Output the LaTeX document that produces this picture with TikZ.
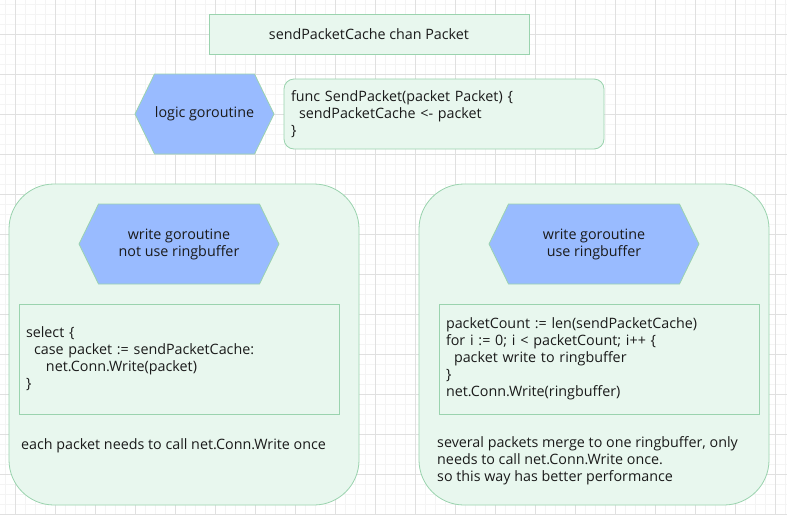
\documentclass[tikz,border=0pt]{standalone}
\usepackage{fontspec}
\setmainfont{Open Sans}
\usetikzlibrary{shapes.symbols}
\definecolor{boxfill}{HTML}{E8F7EE}
\definecolor{boxline}{HTML}{9AD3AE}
\definecolor{hexfill}{HTML}{99BBFF}
\definecolor{gridminor}{HTML}{F4F4F4}
\definecolor{gridmajor}{HTML}{E0E0E0}
\definecolor{ink}{HTML}{1A1A1A}
\tikzset{
  every node/.style={font=\fontsize{14.3}{17}\selectfont, text=ink},
  greenbox/.style={draw=boxline, fill=boxfill, line width=0.8pt},
  hexa/.style={signal, signal to=east and west, signal pointer angle=128,
    draw=boxline, fill=hexfill, line width=0.8pt, align=center, inner sep=0pt},
  codebox/.style={greenbox, align=left, inner xsep=7pt, text width=306pt},
  note/.style={anchor=west, align=left, inner sep=0pt},
}
\begin{document}
\begin{tikzpicture}[x=1pt,y=-1pt]
  \useasboundingbox (0,0) rectangle (787,515);
  \fill[white] (0,0) rectangle (787,515);
  % grid
  \foreach \gx in {5,15,...,785} \draw[gridminor] (\gx,0) -- (\gx,515);
  \foreach \gy in {4,14,...,514} \draw[gridminor] (0,\gy) -- (787,\gy);
  \foreach \gx in {15,55,...,775} \draw[gridmajor] (\gx,0) -- (\gx,515);
  \foreach \gy in {34,74,...,514} \draw[gridmajor] (0,\gy) -- (787,\gy);

  \node[greenbox, minimum width=320pt, minimum height=40pt] (title) at (369,34)
    {sendPacketCache chan Packet};
  \node[hexa, minimum width=139pt, minimum height=80pt] (logic) at (204.5,114)
    {logic goroutine};
  \node[codebox, rounded corners=10pt, minimum height=70pt] (sendfunc) at (444,114)
    {func SendPacket(packet Packet) \{\\\hspace*{8pt}sendPacketCache <- packet\\\}};

  % write goroutine without ringbuffer
  \node[greenbox, rounded corners=45pt, minimum width=350pt, minimum height=321pt]
    (plainpane) at (184,344.5) {};
  \node[hexa, minimum width=200pt, minimum height=80pt] (plainhex) at (179,244)
    {write goroutine\\not use ringbuffer};
  \node[codebox, minimum height=110pt] (plaincode) at (179,359)
    {select \{\\\hspace*{8pt}case packet := sendPacketCache:\\\hspace*{20pt}net.Conn.Write(packet)\\\}};
  \node[note] (plainnote) at (21,446) {each packet needs to call net.Conn.Write once};

  % write goroutine with ringbuffer
  \node[greenbox, rounded corners=45pt, minimum width=350pt, minimum height=321pt]
    (ringpane) at (594,344.5) {};
  \node[hexa, minimum width=210pt, minimum height=80pt] (ringhex) at (594,244)
    {write goroutine\\use ringbuffer};
  \node[codebox, minimum height=110pt] (ringcode) at (599,359)
    {packetCount := len(sendPacketCache)\\for i := 0; i < packetCount; i++ \{\\\hspace*{8pt}packet write to ringbuffer\\\}\\net.Conn.Write(ringbuffer)};
  \node[note] (ringnote) at (437,461)
    {several packets merge to one ringbuffer, only\\needs to call net.Conn.Write once.\\so this way has better performance};
\end{tikzpicture}
\end{document}
